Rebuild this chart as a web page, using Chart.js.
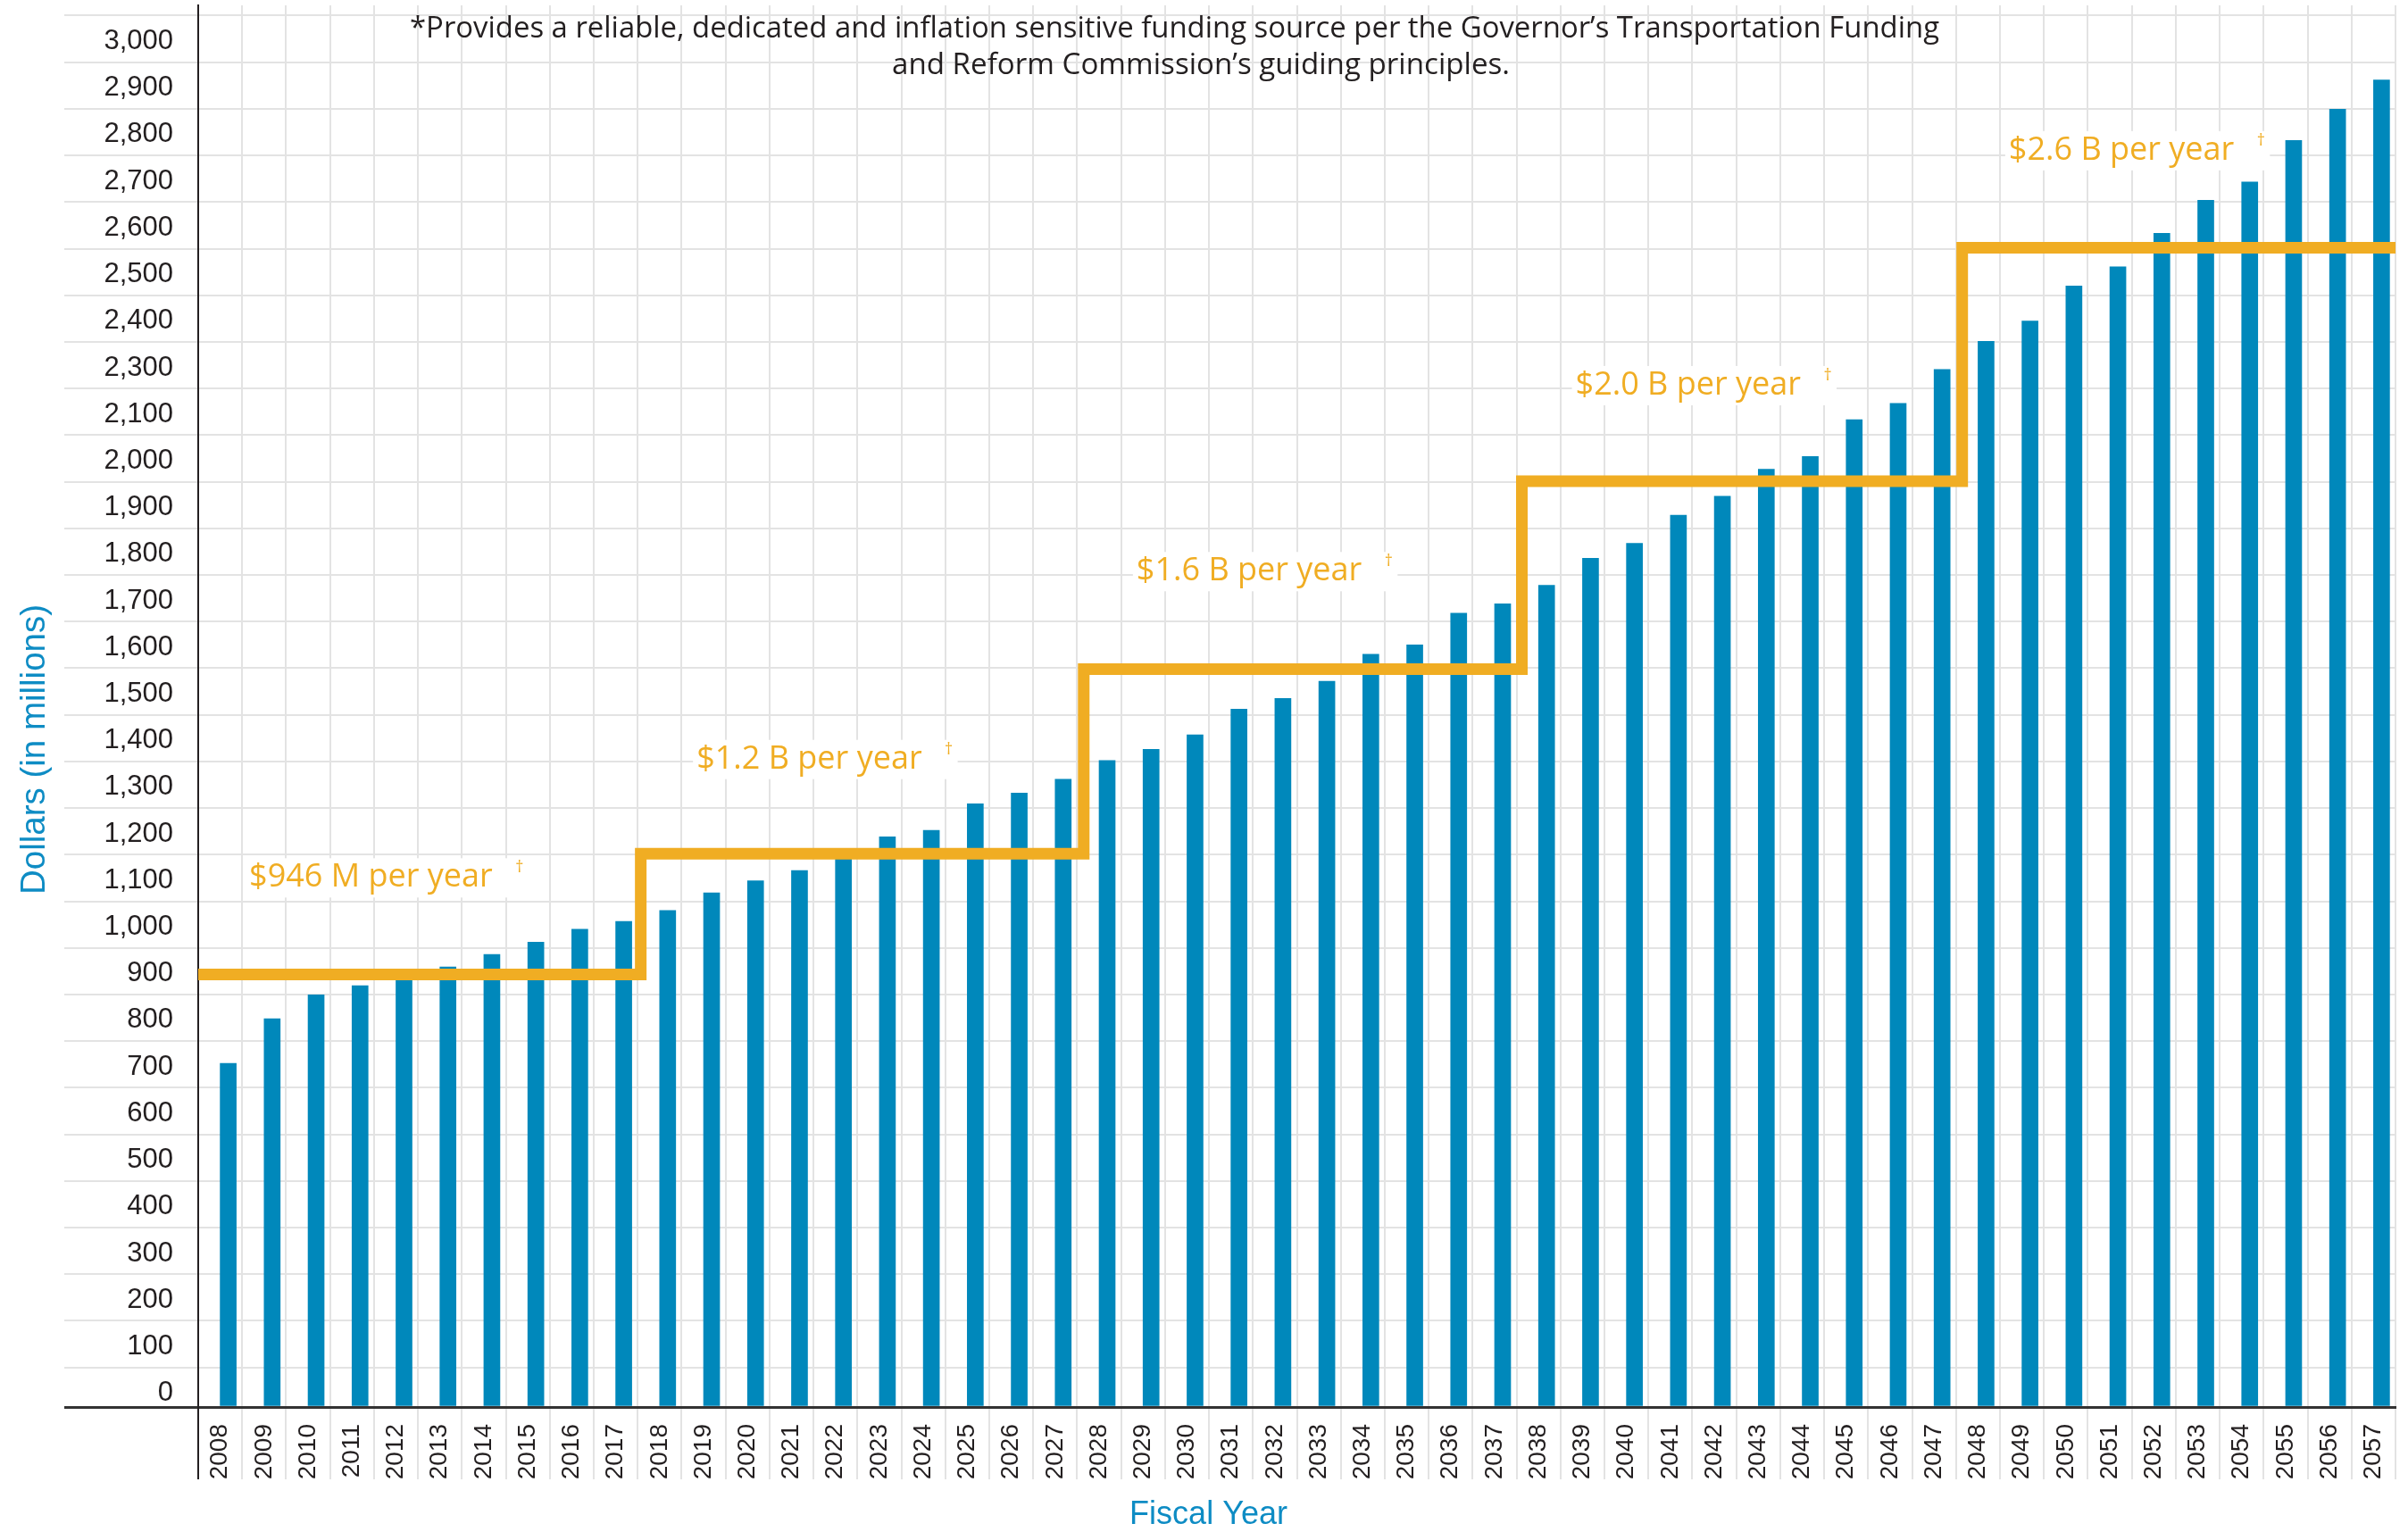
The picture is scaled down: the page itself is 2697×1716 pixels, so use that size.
<!DOCTYPE html>
<html>
<head>
<meta charset="utf-8">
<title>Funding per fiscal year</title>
<script src="https://cdn.jsdelivr.net/npm/chart.js@4.4.1/dist/chart.umd.min.js"></script>
<style>
	html, body { margin: 0; padding: 0; background: #fff; }
	canvas { display: block; }
</style>
</head>
<body>
<canvas id="chart" width="2697" height="1716"></canvas>
<script>
const years = [
	'2008', '2009', '2010', '2011', '2012', '2013', '2014', '2015', '2016', '2017',
	'2018', '2019', '2020', '2021', '2022', '2023', '2024', '2025', '2026', '2027',
	'2028', '2029', '2030', '2031', '2032', '2033', '2034', '2035', '2036', '2037',
	'2038', '2039', '2040', '2041', '2042', '2043', '2044', '2045', '2046', '2047',
	'2048', '2049', '2050', '2051', '2052', '2053', '2054', '2055', '2056', '2057'
];

// bar heights, read against the drawn grid (one grid step = 100)
const fundingValues = [
	737, 833, 884, 904, 925, 944, 971, 997, 1025, 1042,
	1065, 1103, 1129, 1151, 1180, 1223, 1237, 1294, 1317, 1347,
	1387, 1411, 1442, 1497, 1520, 1557, 1615, 1635, 1703, 1723,
	1763, 1821, 1853, 1913, 1954, 2012, 2039, 2118, 2153, 2226,
	2286, 2330, 2405, 2446, 2518, 2589, 2628, 2717, 2784, 2847
];

// orange step line: level of each block and where the blocks change (in category units)
const stepLevels = [928, 1187, 1583, 1986, 2487];
const stepEdges = [-0.5, 9.57, 19.65, 29.62, 39.64, 49.5];
const stepLabels = ['$946 M per year', '$1.2 B per year', '$1.6 B per year', '$2.0 B per year', '$2.6 B per year'];

const yTickLabels = [
	'0', '100', '200', '300', '400', '500', '600', '700', '800', '900',
	'1,000', '1,100', '1,200', '1,300', '1,400', '1,500', '1,600', '1,700', '1,800', '1,900',
	'2,000', '2,100', '2,300', '2,400', '2,500', '2,600', '2,700', '2,800', '2,900', '3,000'
];

const noteLines = [
	'*Provides a reliable, dedicated and inflation sensitive funding source per the Governor\u2019s Transportation Funding',
	'and Reform Commission\u2019s guiding principles.'
];

const BLUE = '#0088BB';
const ORANGE = '#F0AD23';
const INK = '#231F20';
const GRID = '#E3E3E3';

// grid lines sit 85 above each hundred, the labels sit in the bands between them
const gridValues = [0].concat(yTickLabels.map((_, i) => 85 + i * 100));

const stepPoints = stepEdges.map((x, i) => ({ x, y: stepLevels[Math.min(i, stepLevels.length - 1)] }));

// left edge / baseline of each orange label, in data units
const labelSpots = [
	{ x: 0.66, y: 1116 },
	{ x: 10.84, y: 1370 },
	{ x: 20.85, y: 1773 },
	{ x: 30.84, y: 2172 },
	{ x: 40.70, y: 2676 }
];

function drawFitted(ctx, text, x, y, width) {
	const natural = ctx.measureText(text).width;
	ctx.save();
	ctx.translate(x, y);
	ctx.scale(width / natural, 1);
	ctx.fillText(text, 0, 0);
	ctx.restore();
}

const annotationPlugin = {
	id: 'stepAnnotations',
	beforeDatasetsDraw(chart) {
		const { ctx, scales } = chart;
		ctx.save();
		ctx.font = '36px "Open Sans"';
		ctx.fillStyle = '#fff';
		stepLabels.forEach((text, i) => {
			const left = scales.xs.getPixelForValue(labelSpots[i].x);
			const base = scales.y.getPixelForValue(labelSpots[i].y);
			const w = ctx.measureText(text).width;
			ctx.fillRect(left - 4, base - 32, w + 44, 44);
		});
		ctx.restore();
	},
	afterDatasetsDraw(chart) {
		const { ctx, scales } = chart;
		ctx.save();
		ctx.fillStyle = ORANGE;
		stepLabels.forEach((text, i) => {
			const left = scales.xs.getPixelForValue(labelSpots[i].x);
			const base = scales.y.getPixelForValue(labelSpots[i].y);
			ctx.font = '36px "Open Sans"';
			ctx.textAlign = 'left';
			ctx.textBaseline = 'alphabetic';
			const w = ctx.measureText(text).width;
			ctx.fillText(text, left, base);
			ctx.font = '18px "Open Sans"';
			ctx.textAlign = 'center';
			ctx.textBaseline = 'middle';
			ctx.fillText('\u2020', left + w + 30, base - 21);
		});
		ctx.restore();
	},
	afterDraw(chart) {
		const { ctx } = chart;
		ctx.save();
		ctx.textAlign = 'left';
		ctx.textBaseline = 'alphabetic';

		// note at the top
		ctx.fillStyle = INK;
		ctx.font = '33px "Open Sans"';
		drawFitted(ctx, noteLines[0], 459, 42, 1713);
		drawFitted(ctx, noteLines[1], 999, 83, 692);

		// axis titles
		ctx.fillStyle = '#0E8CC4';
		ctx.font = '36px "Liberation Sans", Arial, sans-serif';
		drawFitted(ctx, 'Fiscal Year', 1353 - 88, 1707, 177);

		ctx.font = '39px "Liberation Sans", Arial, sans-serif';
		ctx.translate(50, 840);
		ctx.rotate(-Math.PI / 2);
		drawFitted(ctx, 'Dollars (in millions)', -162, 0, 325);
		ctx.restore();
	}
};

Chart.defaults.font.family = '"Liberation Sans", Arial, sans-serif';

new Chart(document.getElementById('chart'), {
	type: 'bar',
	data: {
		labels: years,
		datasets: [
			{
				type: 'line',
				data: stepPoints,
				xAxisID: 'xs',
				yAxisID: 'y',
				stepped: true,
				borderColor: ORANGE,
				borderWidth: 13,
				borderJoinStyle: 'miter',
				borderCapStyle: 'butt',
				pointRadius: 0,
				fill: false,
				order: 0
			},
			{
				data: fundingValues,
				xAxisID: 'x',
				yAxisID: 'y',
				backgroundColor: BLUE,
				barThickness: 18,
				order: 1
			}
		]
	},
	options: {
		responsive: false,
		animation: false,
		layout: { padding: { top: 6, right: 14, left: 0, bottom: 0 } },
		plugins: {
			legend: { display: false },
			tooltip: { enabled: false }
		},
		scales: {
			x: {
				type: 'category',
				grid: {
					offset: true,
					color: ctx => ctx.index === 0 ? INK : GRID,
					lineWidth: 2,
					tickLength: 81
				},
				border: { display: true, color: '#333', width: 3 },
				ticks: {
					minRotation: 90,
					maxRotation: 90,
					autoSkip: false,
					padding: -62,
					color: INK,
					font: { size: 28 }
				},
				afterFit: scale => { scale.height = 140; }
			},
			xs: {
				type: 'linear',
				axis: 'x',
				position: 'bottom',
				display: false,
				offset: false,
				grid: { offset: false },
				bounds: 'data',
				min: -0.5,
				max: 49.5
			},
			y: {
				min: 0,
				max: 3007,
				afterBuildTicks: scale => { scale.ticks = gridValues.map(v => ({ value: v })); },
				grid: {
					color: ctx => ctx.tick && ctx.tick.value === 0 ? '#333' : GRID,
					lineWidth: ctx => ctx.tick && ctx.tick.value === 0 ? 3 : 2,
					tickLength: 150
				},
				border: { display: true, color: INK, width: 2 },
				ticks: {
					autoSkip: false,
					padding: -122,
					labelOffset: 29,
					color: INK,
					font: { size: 31 },
					callback: (value, index) => index === 0 ? '' : yTickLabels[index - 1]
				},
				afterFit: scale => { scale.width = 222; }
			}
		}
	},
	plugins: [annotationPlugin]
});
</script>
</body>
</html>
